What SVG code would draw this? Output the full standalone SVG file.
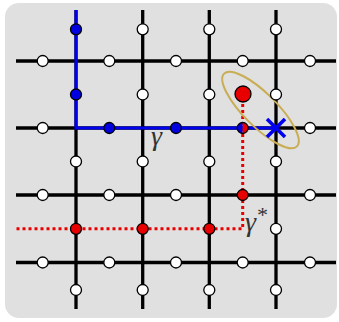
<svg xmlns="http://www.w3.org/2000/svg" width="339" height="322" viewBox="0 0 339 322">
  <defs>
    <style>
      .grid { stroke: #000; stroke-width: 3.3; fill: none; }
      .path { stroke: #0000f0; stroke-width: 3; fill: none; }
      .dual { stroke: #e80000; stroke-width: 3; fill: none; stroke-dasharray: 3 3; }
      .v { stroke: #000; stroke-width: 1.3; }
      .w { fill: #fff; }
      .b { fill: #0000e0; }
      .r { fill: #e80000; }
      .lbl { font-family: "Liberation Serif", "DejaVu Serif", serif; font-style: italic; fill: #333; }
    </style>
  </defs>

  <!-- panel -->
  <rect x="5" y="3" width="332" height="315" rx="14" fill="#e0e0e0"/>

  <!-- lattice, paths and loop -->
  <g id="connectors">
    <g id="lattice">
      <line class="grid" x1="16" y1="61" x2="336" y2="61"/>
      <line class="grid" x1="16" y1="128" x2="336" y2="128"/>
      <line class="grid" x1="16" y1="195" x2="336" y2="195"/>
      <line class="grid" x1="16" y1="262.5" x2="336" y2="262.5"/>
      <line class="grid" x1="76" y1="10" x2="76" y2="309"/>
      <line class="grid" x1="142.7" y1="10" x2="142.7" y2="309"/>
      <line class="grid" x1="209.3" y1="10" x2="209.3" y2="309"/>
      <line class="grid" x1="276" y1="10" x2="276" y2="309"/>
    </g>
    <path id="gamma" class="path" d="M76,10 V128 H276"/>
    <path id="gamma-star" class="dual" d="M242.7,104 V228.8 H16"/>
    <ellipse id="loop" cx="260.5" cy="110" rx="51.5" ry="16.5" transform="rotate(45 260.5 110)" fill="none" stroke="#c9ad55" stroke-width="2"/>
  </g>

  <!-- row y=61 -->
  <g id="h-0-0"><circle class="v w" cx="42.7" cy="61" r="5.5"/></g>
  <g id="h-0-1"><circle class="v w" cx="109.3" cy="61" r="5.5"/></g>
  <g id="h-0-2"><circle class="v w" cx="176" cy="61" r="5.5"/></g>
  <g id="h-0-3"><circle class="v w" cx="242.7" cy="61" r="5.5"/></g>
  <g id="h-0-4"><circle class="v w" cx="310" cy="61" r="5.5"/></g>
  <!-- row y=128 -->
  <g id="h-1-0"><circle class="v w" cx="42.7" cy="128" r="5.5"/></g>
  <g id="h-1-1"><circle class="v b" cx="109.3" cy="128" r="5.5"/></g>
  <g id="h-1-2"><circle class="v b" cx="176" cy="128" r="5.5"/></g>
  <g id="h-1-3">
    <path class="b" d="M242.7,122.5 A5.5,5.5 0 0 0 242.7,133.5 Z"/>
    <path class="r" d="M242.7,122.5 A5.5,5.5 0 0 1 242.7,133.5 Z"/>
    <circle class="v" cx="242.7" cy="128" r="5.5" fill="none"/>
  </g>
  <g id="h-1-4"><circle class="v w" cx="310" cy="128" r="5.5"/></g>
  <!-- row y=195 -->
  <g id="h-2-0"><circle class="v w" cx="42.7" cy="195" r="5.5"/></g>
  <g id="h-2-1"><circle class="v w" cx="109.3" cy="195" r="5.5"/></g>
  <g id="h-2-2"><circle class="v w" cx="176" cy="195" r="5.5"/></g>
  <g id="h-2-3"><circle class="v r" cx="242.7" cy="195" r="5.5"/></g>
  <g id="h-2-4"><circle class="v w" cx="310" cy="195" r="5.5"/></g>
  <!-- row y=262.5 -->
  <g id="h-3-0"><circle class="v w" cx="42.7" cy="262.5" r="5.5"/></g>
  <g id="h-3-1"><circle class="v w" cx="109.3" cy="262.5" r="5.5"/></g>
  <g id="h-3-2"><circle class="v w" cx="176" cy="262.5" r="5.5"/></g>
  <g id="h-3-3"><circle class="v w" cx="242.7" cy="262.5" r="5.5"/></g>
  <g id="h-3-4"><circle class="v w" cx="310" cy="262.5" r="5.5"/></g>

  <!-- column x=76 -->
  <g id="v-0-0"><circle class="v b" cx="76" cy="29.3" r="5.5"/></g>
  <g id="v-0-1"><circle class="v b" cx="76" cy="94.5" r="5.5"/></g>
  <g id="v-0-2"><circle class="v w" cx="76" cy="161.5" r="5.5"/></g>
  <g id="v-0-3"><circle class="v r" cx="76" cy="228.8" r="5.5"/></g>
  <g id="v-0-4"><circle class="v w" cx="76" cy="290" r="5.5"/></g>
  <!-- column x=142.7 -->
  <g id="v-1-0"><circle class="v w" cx="142.7" cy="29.3" r="5.5"/></g>
  <g id="v-1-1"><circle class="v w" cx="142.7" cy="94.5" r="5.5"/></g>
  <g id="v-1-2"><circle class="v w" cx="142.7" cy="161.5" r="5.5"/></g>
  <g id="v-1-3"><circle class="v r" cx="142.7" cy="228.8" r="5.5"/></g>
  <g id="v-1-4"><circle class="v w" cx="142.7" cy="290" r="5.5"/></g>
  <!-- column x=209.3 -->
  <g id="v-2-0"><circle class="v w" cx="209.3" cy="29.3" r="5.5"/></g>
  <g id="v-2-1"><circle class="v w" cx="209.3" cy="94.5" r="5.5"/></g>
  <g id="v-2-2"><circle class="v w" cx="209.3" cy="161.5" r="5.5"/></g>
  <g id="v-2-3"><circle class="v r" cx="209.3" cy="228.8" r="5.5"/></g>
  <g id="v-2-4"><circle class="v w" cx="209.3" cy="290" r="5.5"/></g>
  <!-- column x=276 -->
  <g id="v-3-0"><circle class="v w" cx="276" cy="29.3" r="5.5"/></g>
  <g id="v-3-1"><circle class="v w" cx="276" cy="94.5" r="5.5"/></g>
  <g id="v-3-2"><circle class="v w" cx="276" cy="161.5" r="5.5"/></g>
  <g id="v-3-3"><circle class="v w" cx="276" cy="228.8" r="5.5"/></g>
  <g id="v-3-4"><circle class="v w" cx="276" cy="290" r="5.5"/></g>

  <!-- plaquette excitation -->
  <g id="plaquette"><circle class="v r" cx="243" cy="94" r="8" stroke-width="1.5"/></g>

  <!-- endpoint cross -->
  <g id="endpoint" stroke="#0000f0" stroke-width="3.5">
    <line x1="267" y1="119" x2="285" y2="137"/>
    <line x1="285" y1="119" x2="267" y2="137"/>
  </g>

  <!-- labels -->
  <text class="lbl" x="151" y="145" font-size="28">γ</text>
  <text class="lbl" x="245" y="231" font-size="28">γ<tspan font-size="22" dx="0" dy="-9">*</tspan></text>
</svg>
